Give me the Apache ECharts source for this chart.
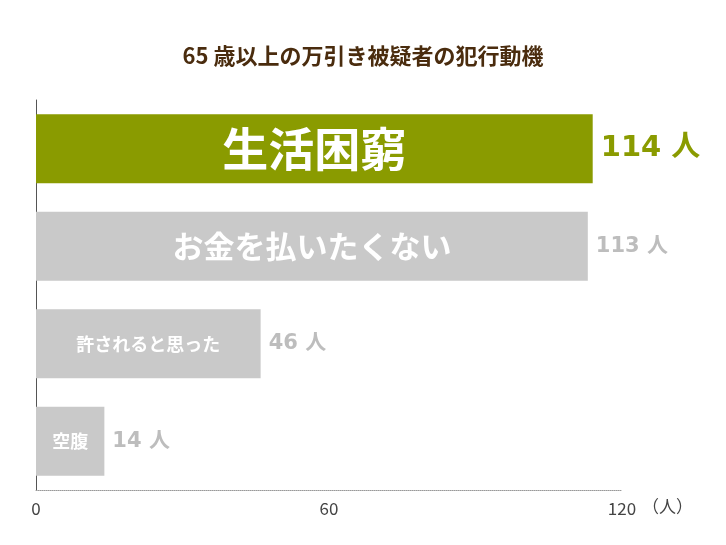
<!DOCTYPE html>
<html>
<head>
<meta charset="utf-8">
<script src="https://cdn.jsdelivr.net/npm/echarts@6/dist/echarts.min.js"></script>
<style>html,body{margin:0;padding:0;background:#fff}</style>
</head>
<body>
<div id="chart" style="width:726px;height:545px"></div>
<script>
const categories = ['生活困窮', 'お金を払いたくない', '許されると思った', '空腹']
const values = [114, 113, 46, 14]
const barColors = ['#8a9b00', '#c9c9c9', '#c9c9c9', '#c9c9c9']
const innerSizes = [46, 31, 18, 18]

const font = '"Noto Sans CJK JP", sans-serif'
const numFont = '"DejaVu Sans", "Noto Sans CJK JP", sans-serif'

const chart = echarts.init(document.getElementById('chart'))
chart.setOption({
    title: {
        text: '65 歳以上の万引き被疑者の犯行動機',
        left: 'center', top: 40,
        textStyle: {color: '#4a2c0e', fontSize: 22, fontWeight: 'bold', fontFamily: font}
    },
    grid: {left: 36, right: 104, top: 100, bottom: 55},
    xAxis: {
        type: 'value', min: 0, max: 120, interval: 60,
        name: '（人）', nameLocation: 'end', nameGap: -4,
        nameTextStyle: {color: '#444', fontSize: 17, fontFamily: font, verticalAlign: 'top', padding: [8, 0, 0, 0]},
        axisLine: {show: true, lineStyle: {color: '#999', type: 'dotted'}},
        axisTick: {show: false},
        splitLine: {show: false},
        axisLabel: {color: '#444', fontSize: 17, margin: 10, fontFamily: font}
    },
    yAxis: {
        type: 'category', data: categories, inverse: true,
        axisLine: {show: true, lineStyle: {color: '#555', width: 1}},
        axisTick: {show: false},
        axisLabel: {show: false}
    },
    series: [{
        type: 'bar',
        barWidth: 69,
        data: values.map((v, i) => ({
            value: v, itemStyle: {color: barColors[i]},
            label: {fontSize: innerSizes[i]}
        })),
        label: {
            show: true, position: 'inside', color: '#fff', fontWeight: 'bold', fontFamily: font,
            formatter: p => categories[p.dataIndex]
        },
        emphasis: {disabled: true}
    }, {
        type: 'bar',
        barWidth: 69,
        barGap: '-100%',
        data: values.map((v, i) => ({
            value: v,
            itemStyle: {color: 'transparent'},
            label: {
                show: true, position: 'right', distance: 8,
                color: i === 0 ? '#8a9b00' : '#bdbdbd',
                fontSize: i === 0 ? 29 : 21, fontWeight: 'bold', fontFamily: numFont,
                formatter: v + ' 人'
            }
        })),
        emphasis: {disabled: true},
        z: 1
    }]
})
</script>
</body>
</html>
